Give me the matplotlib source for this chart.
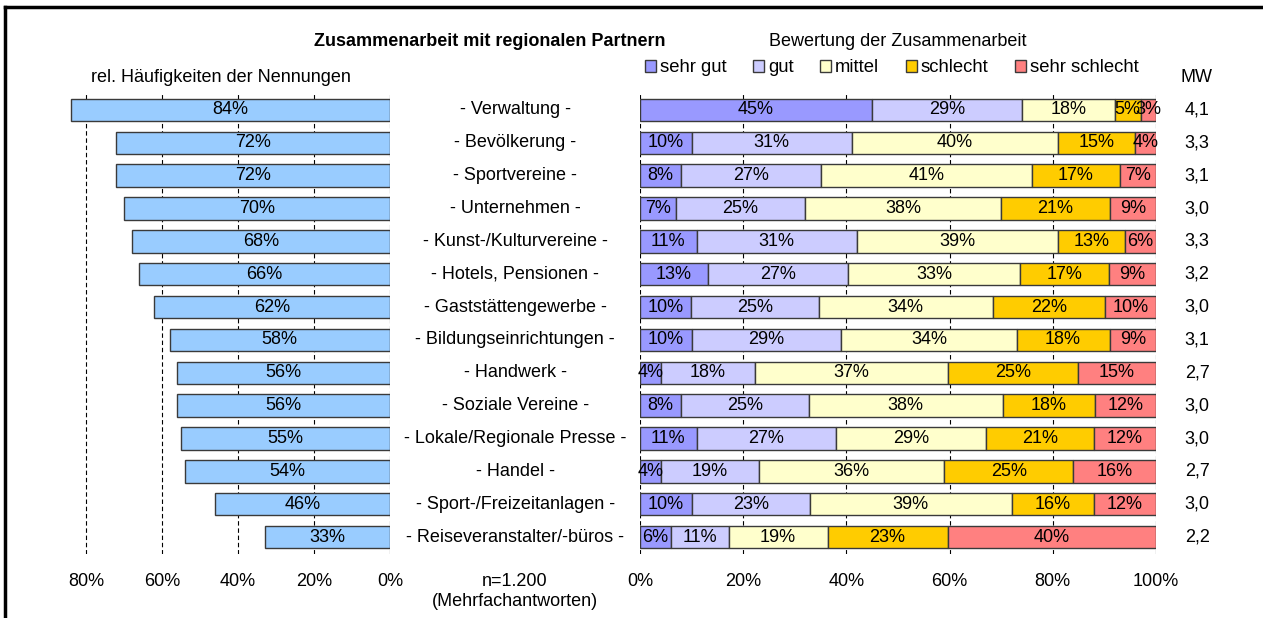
import numpy as np
import matplotlib
matplotlib.use("Agg")
import matplotlib.pyplot as plt
from matplotlib.lines import Line2D
from matplotlib.patches import Patch

plt.rcParams["font.family"] = ["Liberation Sans", "DejaVu Sans"]
plt.rcParams["font.size"] = 13

categories = ["Verwaltung", "Bevölkerung", "Sportvereine", "Unternehmen",
              "Kunst-/Kulturvereine", "Hotels, Pensionen", "Gaststättengewerbe",
              "Bildungseinrichtungen", "Handwerk", "Soziale Vereine",
              "Lokale/Regionale Presse", "Handel", "Sport-/Freizeitanlagen",
              "Reiseveranstalter/-büros"]
mentions = [84, 72, 72, 70, 68, 66, 62, 58, 56, 56, 55, 54, 46, 33]

sehr_gut = [45, 10, 8, 7, 11, 13, 10, 10, 4, 8, 11, 4, 10, 6]
gut = [29, 31, 27, 25, 31, 27, 25, 29, 18, 25, 27, 19, 23, 11]
mittel = [18, 40, 41, 38, 39, 33, 34, 34, 37, 38, 29, 36, 39, 19]
schlecht = [5, 15, 17, 21, 13, 17, 22, 18, 25, 18, 21, 25, 16, 23]
sehr_schlecht = [3, 4, 7, 9, 6, 9, 10, 9, 15, 12, 12, 16, 12, 40]
mw = ["4,1", "3,3", "3,1", "3,0", "3,3", "3,2", "3,0", "3,1", "2,7", "3,0",
      "3,0", "2,7", "3,0", "2,2"]

rating_labels = ["sehr gut", "gut", "mittel", "schlecht", "sehr schlecht"]
rating_colors = ["#9999FF", "#CCCCFF", "#FFFFCC", "#FFCC00", "#FF8080"]
left_color = "#99CCFF"
edge = "#3a3a3a"

W, H = 1263, 618
fig = plt.figure(figsize=(W / 100, H / 100), dpi=100)


def px_axes(x0, y0, x1, y1):
    # pixel box (top-left origin) -> figure axes
    return fig.add_axes([x0 / W, 1 - y1 / H, (x1 - x0) / W, (y1 - y0) / H])


y = np.arange(len(categories))
ylim = (len(categories) - 0.5, -0.5)
bar_h = 0.68

# left: relative frequencies (reversed x axis)
axl = px_axes(60, 93.5, 390, 553.5)
axl.barh(y, mentions, height=bar_h, color=left_color, edgecolor=edge, linewidth=1, zorder=3)
for yi, v in zip(y, mentions):
    axl.text(v / 2, yi, f"{v}%", ha="center", va="center", zorder=4)
axl.set_xlim((390 - 60) / 3.8, 0)
axl.set_ylim(ylim)
axl.set_xticks([80, 60, 40, 20, 0])
axl.set_xticklabels(["80%", "60%", "40%", "20%", "0%"])

# right: stacked ratings
axr = px_axes(640, 93.5, 1156, 553.5)
data = np.array([sehr_gut, gut, mittel, schlecht, sehr_schlecht], dtype=float)
shares = data / data.sum(axis=0) * 100
left = np.zeros(len(categories))
handles = []
for vals, raw, col, lab in zip(shares, data, rating_colors, rating_labels):
    axr.barh(y, vals, left=left, height=bar_h, color=col, edgecolor=edge, linewidth=1, zorder=3)
    for yi, l, v, r in zip(y, left, vals, raw):
        axr.text(l + v / 2, yi, f"{int(r)}%", ha="center", va="center", zorder=4)
    left += vals
    handles.append(Patch(facecolor=col, edgecolor=edge, linewidth=1, label=lab))
axr.set_xlim(0, 100)
axr.set_ylim(ylim)
axr.set_xticks([0, 20, 40, 60, 80, 100])
axr.set_xticklabels(["0%", "20%", "40%", "60%", "80%", "100%"])

for ax in (axl, axr):
    for s in ax.spines.values():
        s.set_visible(False)
    ax.set_yticks([])
    ax.tick_params(axis="x", length=0, pad=14)
    ax.grid(axis="x", color="black", linestyle=(0, (4, 2.5)), linewidth=0.8, zorder=0)
    ax.set_facecolor("none")

# category labels and mean values
for yi, cat, m in zip(y, categories, mw):
    axr.text(-0.242, yi, f"- {cat} -", transform=axr.get_yaxis_transform(),
             ha="center", va="center")
    axr.text(1.08, yi, m, transform=axr.get_yaxis_transform(),
             ha="center", va="center")

fig.text(490 / W, 1 - 42 / H, "Zusammenarbeit mit regionalen Partnern",
         ha="center", va="center", fontweight="bold")
fig.text(898 / W, 1 - 42 / H, "Bewertung der Zusammenarbeit", ha="center", va="center")
fig.text(221 / W, 1 - 77 / H, "rel. Häufigkeiten der Nennungen", ha="center", va="center")
fig.text(1197 / W, 1 - 78 / H, "MW", ha="center", va="center")
fig.text(515 / W, 1 - 581 / H, "n=1.200", ha="center", va="center")
fig.text(515 / W, 1 - 602 / H, "(Mehrfachantworten)", ha="center", va="center")

fig.legend(handles=handles, loc="center left", bbox_to_anchor=(645 / W, 1 - 68 / H),
           ncol=5, frameon=False, handlelength=0.6, handleheight=0.6,
           handletextpad=0.2, columnspacing=1.45, borderpad=0, borderaxespad=0,
           fontsize=13.3)

# outer frame (top and left edge)
fig.add_artist(Line2D([5 / W, 5 / W], [0, 1 - 7 / H], color="black", linewidth=2.5))
fig.add_artist(Line2D([5 / W, 1.0], [1 - 7 / H, 1 - 7 / H], color="black", linewidth=2.5))

fig.savefig("out.png", dpi=100)
